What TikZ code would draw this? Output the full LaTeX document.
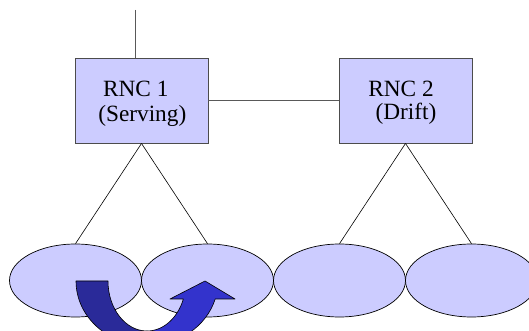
\documentclass[tikz,border=0pt]{standalone}
\usepackage{fontspec}
\setmainfont{Liberation Serif}
\usetikzlibrary{shapes.geometric}
\definecolor{fillb}{HTML}{CCCCFF}
\definecolor{darkarrow}{HTML}{2A2A99}
\definecolor{lightarrow}{HTML}{3333CC}
\begin{document}
\begin{tikzpicture}[x=1pt,y=1pt,
  box/.style={draw=black!70, line width=0.9pt, fill=fillb, minimum width=133pt, minimum height=85pt, inner sep=0pt},
  cell/.style={ellipse, draw=black, line width=0.7pt, fill=fillb, minimum width=132pt, minimum height=73pt, inner sep=0pt},
  lbl/.style={font=\fontsize{23.3}{25}\selectfont, inner sep=0pt, anchor=base},
  trunk/.style={draw=black!65, line width=1.4pt},
  link/.style={draw=black, line width=0.6pt},
  uarrow/.style={draw=black, line width=0.6pt, line join=round}]
\useasboundingbox (0,0) rectangle (529,331);
% boxes
\node[box] (rnc1) at (141.5,230.5) {};
\node[box] (rnc2) at (405.5,230.5) {};
\node[lbl] (rnc1a) at (135.8,234.3) {RNC 1};
\node[lbl] (rnc1b) at (142.3,209.5) {(Serving)};
\node[lbl] (rnc2a) at (401,234.3) {RNC 2};
\node[lbl] (rnc2b) at (406,211.5) {(Drift)};
% cells
\node[cell] (c1) at (75.5,50.5) {};
\node[cell] (c2) at (207.5,50.5) {};
\node[cell] (c3) at (339.5,50.5) {};
\node[cell] (c4) at (471.5,50.5) {};
% connections
\coordinate (up) at (135.5,321);
\draw[trunk] (up) -- (up |- rnc1.north);
\draw[trunk] (rnc1.east) -- (rnc2.west);
\draw[link] (rnc1.south) -- (c1.north);
\draw[link] (rnc1.south) -- (c2.north);
\draw[link] (rnc2.south) -- (c3.north);
\draw[link] (rnc2.south) -- (c4.north);
% curved up arrow (handover)
\filldraw[uarrow, fill=darkarrow] (76,50) -- (108,50)
  arc[start angle=180, end angle=270, x radius=39, y radius=50]
  -- (147,-14.5)
  arc[start angle=270, end angle=180, x radius=71, y radius=64.5] -- cycle;
\filldraw[uarrow, fill=lightarrow] (147,0)
  arc[start angle=270, end angle=338.9, x radius=39, y radius=50]
  -- (170,32) -- (205,50) -- (235,32) -- (215.2,32)
  arc[start angle=-16.2, end angle=-90, x radius=71, y radius=64.5] -- cycle;
\end{tikzpicture}
\end{document}
